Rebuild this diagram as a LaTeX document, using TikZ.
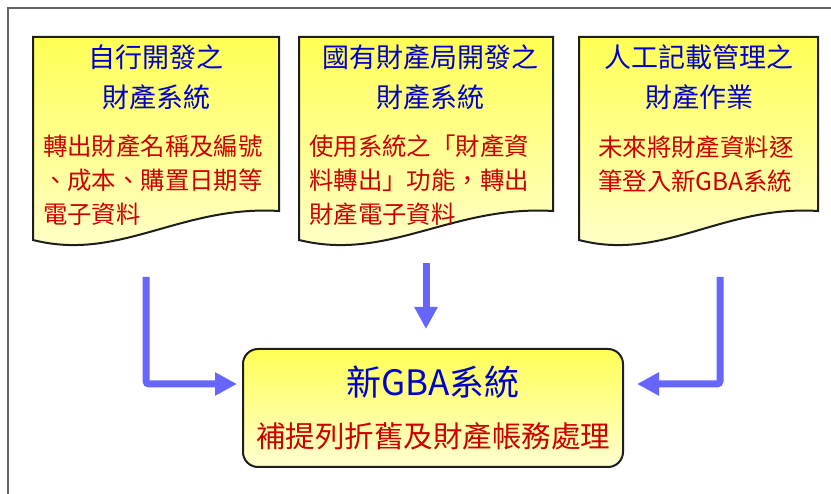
\documentclass[tikz,border=0pt]{standalone}
\usepackage{fontspec}
\setmainfont{Noto Sans CJK TC}
\usetikzlibrary{arrows.meta}
\definecolor{arrowblue}{RGB}{102,102,255}
\definecolor{ttlblue}{RGB}{0,0,204}
\definecolor{txtred}{RGB}{204,0,0}
\definecolor{yelTop}{RGB}{255,255,85}
\definecolor{yelBot}{RGB}{255,255,208}
\definecolor{frameGray}{RGB}{100,100,100}
\definecolor{edgeDark}{RGB}{30,30,30}
\newcommand{\mydocshape}[2]{%
  \path[draw=edgeDark, line width=2pt, top color=yelTop, bottom color=yelBot]
    (#1,37) -- (#2,37) -- (#2,211)
    .. controls ({#1+0.6*(#2-#1)},205) and ({#1+0.35*(#2-#1)},262) .. (#1,240) -- cycle;}
\begin{document}
\begin{tikzpicture}[x=1pt,y=-1pt,
  ttl/.style={text=ttlblue, align=center, inner sep=0pt, font=\fontsize{27}{40}\selectfont},
  body/.style={text=txtred, align=left, inner sep=0pt, anchor=west, font=\fontsize{24.4}{34}\selectfont},
  flow/.style={draw=arrowblue, line width=7pt, rounded corners=3pt, -{Triangle[length=22pt,width=22pt]}},
  gbabox/.style={draw=edgeDark, line width=2pt, rounded corners=15pt, top color=yelTop, bottom color=yelBot,
    minimum width=380pt, minimum height=118pt, inner sep=0pt}]
\useasboundingbox (0,0) rectangle (831,494);
\draw[frameGray, line width=2pt] (8,494) -- (8,8) -- (831,8);
% documents
\mydocshape{33}{279}
\mydocshape{299}{553}
\mydocshape{579}{818}
\node[ttl] (t1) at (156,77) {自行開發之\\財產系統};
\node[body] (b1) at (43,180) {轉出財產名稱及編號\\、成本、購置日期等\\電子資料};
\node[ttl] (t2) at (430,77) {國有財產局開發之\\財產系統};
\node[body] (b2) at (309,180) {使用系統之「財產資\\料轉出」功能，轉出\\財產電子資料};
\node[ttl] (t3) at (699,77) {人工記載管理之\\財產作業};
\node[body] (b3) at (598,164.5) {未來將財產資料逐\\筆登入新GBA系統};
% central box
\node[gbabox] (gba) at (433,408) {};
\node[text=ttlblue, inner sep=0pt, font=\fontsize{35}{40}\selectfont] (gt) at (433,382) {新GBA系統};
\node[text=txtred, inner sep=0pt, font=\fontsize{29.5}{36}\selectfont] (gb) at (433,436) {補提列折舊及財產帳務處理};
% arrows
\coordinate (l0) at (146,277);
\coordinate (l1) at (237,384);
\coordinate (m0) at (426,263);
\coordinate (m1) at (426,329);
\coordinate (r0) at (720,277);
\coordinate (r1) at (637,384);
\draw[flow] (l0) |- (l1);
\draw[flow] (m0) -- (m1);
\draw[flow] (r0) |- (r1);
\end{tikzpicture}
\end{document}
